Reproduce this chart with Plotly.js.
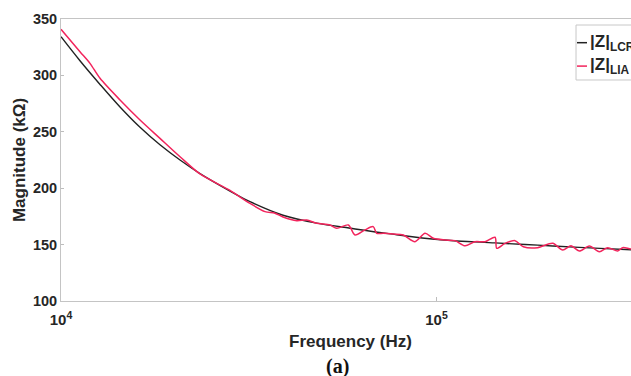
<!DOCTYPE html>
<html>
<head>
<meta charset="utf-8">
<script src="https://cdn.plot.ly/plotly-3.0.1.min.js"></script>
<style>
  html, body { margin: 0; padding: 0; background: #fff; overflow: hidden; width: 631px; height: 376px; }
  #chart { width: 660px; height: 376px; }
</style>
</head>
<body>
<div id="chart"></div>
<script>
// ---- data ----
const freqLCR = [10000, 11234, 12703, 14360, 16234, 18348, 20746, 23452, 28190, 31870, 39020, 47970, 58970, 75390, 102450, 143200, 186000, 240060, 329600, 348300];
const magLCR  = [334.3, 313.0, 292.0, 272.0, 254.0, 238.5, 225.0, 213.0, 197.5, 188.0, 176.0, 169.0, 164.5, 159.5, 154.3, 151.5, 149.5, 147.5, 145.5, 145.1];

const freqLIA = [10000, 11234, 11945, 12703, 14360, 16234, 18348, 20746, 23452, 28190, 31870, 34940, 37140, 39020, 42440, 45120, 47970, 52040, 54240, 58240, 60670, 64480, 67840, 69290, 72150, 76740, 81570, 87640, 93200, 98060, 105340, 112000, 119100, 126630, 134660, 143200, 144680, 152200, 161850, 170300, 186000, 203940, 216830, 228150, 240060, 255320, 271400, 285700, 303800, 313200, 329600, 348300];
const magLIA  = [340.9, 321.0, 310.7, 297.4, 278.2, 260.5, 244.2, 227.9, 212.6, 198.0, 186.5, 179.2, 177.8, 174.5, 171.2, 171.8, 168.9, 167.4, 164.5, 167.4, 158.5, 163.0, 165.9, 160.0, 160.0, 159.4, 158.5, 152.6, 160.0, 155.6, 154.1, 153.5, 149.0, 152.6, 152.6, 156.5, 146.7, 151.1, 153.5, 148.1, 147.3, 151.1, 145.2, 149.0, 144.3, 148.8, 143.7, 147.3, 144.3, 147.3, 146.1, 146.5];

const xTickVals = [10000, 100000];
const xTickText = ['10<sup>4</sup>', '10<sup>5</sup>'];
const yTickVals = [100, 150, 200, 250, 300, 350];
const seriesNames = ['|Z|<sub>LCR</sub>', '|Z|<sub>LIA</sub>'];
const seriesColors = ['#222222', '#f2245c'];

// ---- chart ----
const textColor = '#262626';
const fontFam = 'Liberation Sans, Arial, Helvetica, sans-serif';

const traces = [
  { x: freqLCR, y: magLCR, name: seriesNames[0], mode: 'lines',
    line: { color: seriesColors[0], width: 1.4, shape: 'spline', smoothing: 1 } },
  { x: freqLIA, y: magLIA, name: seriesNames[1], mode: 'lines',
    line: { color: seriesColors[1], width: 1.5, shape: 'spline', smoothing: 0.8 } }
];

// legend drawn as a small box (reference legend is clipped at the right edge)
const legY = [0.9160, 0.8330];
const shapes = [
  { type: 'rect', xref: 'paper', yref: 'paper', x0: 0.8895, x1: 1.2, y0: 0.7837, y1: 0.9787,
    line: { color: '#c8c8c8', width: 1 }, fillcolor: '#ffffff', layer: 'above' }
];
const annotations = [];
for (let i = 0; i < 2; i++) {
  shapes.push({ type: 'line', xref: 'paper', yref: 'paper', x0: 0.8912, x1: 0.9085, y0: legY[i], y1: legY[i],
    line: { color: seriesColors[i], width: 1.5 }, layer: 'above' });
  annotations.push({ xref: 'paper', yref: 'paper', x: 0.9102, y: legY[i], xanchor: 'left', yanchor: 'middle',
    showarrow: false, text: seriesNames[i],
    font: { family: fontFam, size: 17, color: textColor, weight: 'bold' } });
}
annotations.push({ xref: 'paper', yref: 'paper', x: 0.4784, y: -0.2305, xanchor: 'center', yanchor: 'middle',
  showarrow: false, text: '(a)',
  font: { family: 'Liberation Serif, DejaVu Serif, serif', size: 20, color: '#111', weight: 'bold' } });

const layout = {
  width: 660, height: 376,
  margin: { l: 61, r: 20, t: 19, b: 75 },
  paper_bgcolor: '#ffffff', plot_bgcolor: '#ffffff',
  showlegend: false,
  font: { family: fontFam, color: textColor },
  xaxis: {
    type: 'log', range: [4, 5.5419],
    tickvals: xTickVals, ticktext: xTickText,
    ticks: 'inside', ticklen: 4, tickcolor: '#bdbdbd',
    ticklabelstandoff: 5,
    showline: true, linecolor: '#c4c4c4', linewidth: 1, mirror: true,
    showgrid: false, zeroline: false,
    tickfont: { family: fontFam, size: 15, color: textColor, weight: 'bold' },
    title: { text: 'Frequency (Hz)', standoff: 8,
      font: { family: fontFam, size: 17, color: textColor, weight: 'bold' } }
  },
  yaxis: {
    range: [100, 350], tickvals: yTickVals,
    ticks: 'inside', ticklen: 3, tickcolor: '#bdbdbd',
    showline: true, linecolor: '#c4c4c4', linewidth: 1, mirror: true,
    showgrid: false, zeroline: false,
    tickfont: { family: fontFam, size: 14.5, color: textColor, weight: 'bold' },
    title: { text: 'Magnitude (kΩ)', standoff: 2,
      font: { family: fontFam, size: 17, color: textColor, weight: 'bold' } }
  },
  shapes: shapes,
  annotations: annotations
};

Plotly.newPlot('chart', traces, layout, { staticPlot: true, displayModeBar: false });
</script>
</body>
</html>
